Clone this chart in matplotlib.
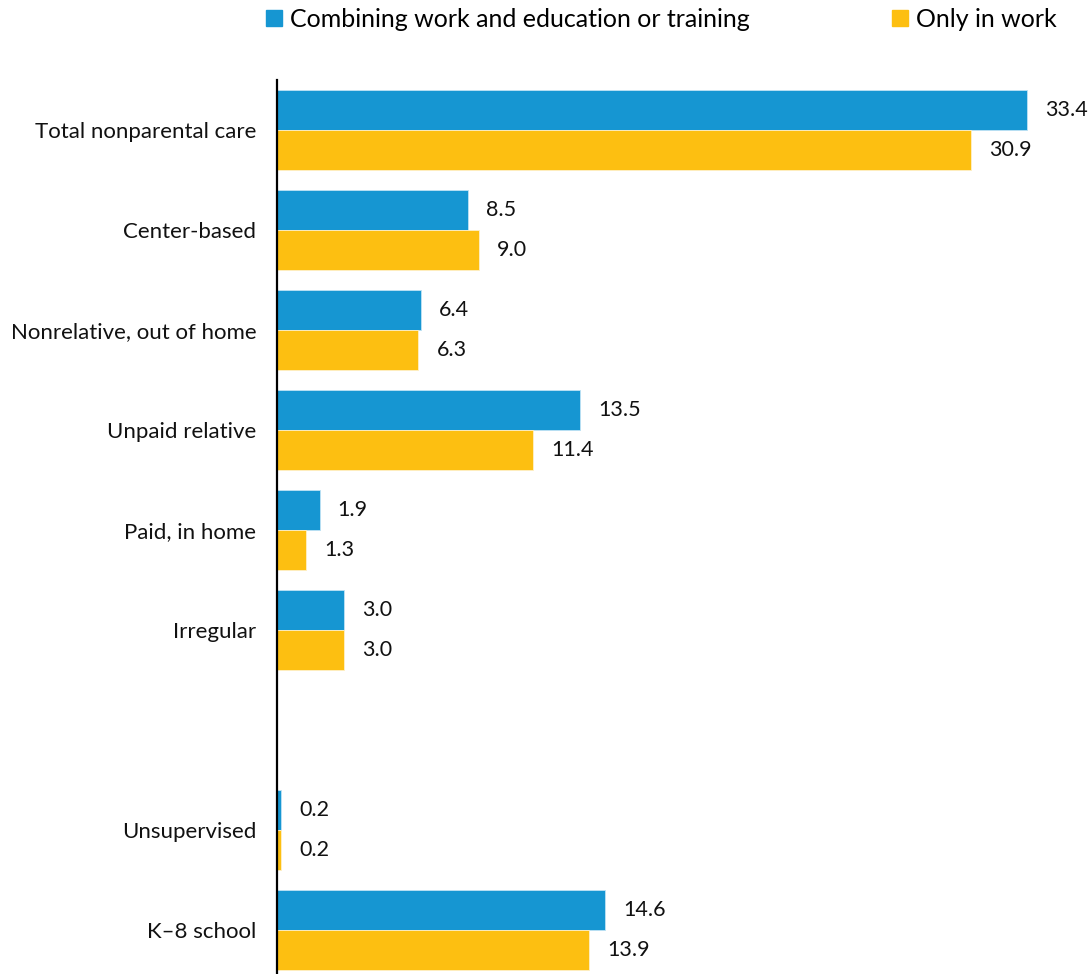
import numpy as np
import matplotlib.pyplot as plt
from matplotlib.lines import Line2D

plt.rcParams['font.family'] = ['Lato', 'DejaVu Sans']

categories = ["Total nonparental care", "Center-based", "Nonrelative, out of home",
              "Unpaid relative", "Paid, in home", "Irregular",
              "Unsupervised", "K\u20138 school"]
work_and_school = [33.4, 8.5, 6.4, 13.5, 1.9, 3.0, 0.2, 14.6]
only_work = [30.9, 9.0, 6.3, 11.4, 1.3, 3.0, 0.2, 13.9]
series_names = ["Combining work and education or training", "Only in work"]

BLUE = "#1696d2"
YELLOW = "#fdbf11"

# the last two categories sit after a one-row break
idx = np.arange(len(categories))
pos = idx + (idx >= 6)

fig = plt.figure(figsize=(10.91, 9.74), dpi=100)
ax = fig.add_axes([277 / 1091, 0, 1 - 277 / 1091, 1 - 80 / 974])

h = 0.4
b1 = ax.barh(pos - h / 2, work_and_school, height=h, color=BLUE,
             edgecolor="#bfe3f4", linewidth=0.6)
b2 = ax.barh(pos + h / 2, only_work, height=h, color=YELLOW,
             edgecolor="#fff0c8", linewidth=0.6)

for bars, vals in ((b1, work_and_school), (b2, only_work)):
    for bar, v in zip(bars, vals):
        ax.annotate(f"{v:.1f}", (v, bar.get_y() + bar.get_height() / 2),
                    xytext=(13, 0), textcoords="offset points",
                    ha="left", va="center", fontsize=15.5, color="#111111")

ax.set_yticks(pos)
ax.set_yticklabels(categories, fontsize=16, color="#111111")
ax.tick_params(axis="y", length=0, pad=15)
ax.set_xticks([])
ax.set_xlim(0, (1091 - 277) / 22.45)
ax.set_ylim(8.44, -0.5)

for s in ("top", "right", "bottom"):
    ax.spines[s].set_visible(False)
ax.spines["left"].set_linewidth(1.6)
ax.spines["left"].set_color("black")

handles = [Line2D([], [], marker="s", linestyle="none", markersize=12, color=c)
           for c in (BLUE, YELLOW)]
fig.legend(handles, series_names, loc="upper left",
           bbox_to_anchor=(264 / 1091, 1 - 8 / 974), ncol=2, frameon=False,
           fontsize=18, handlelength=0.8, handletextpad=0.25,
           columnspacing=5.6, borderpad=0, borderaxespad=0)

fig.savefig("out.png", dpi=100)
